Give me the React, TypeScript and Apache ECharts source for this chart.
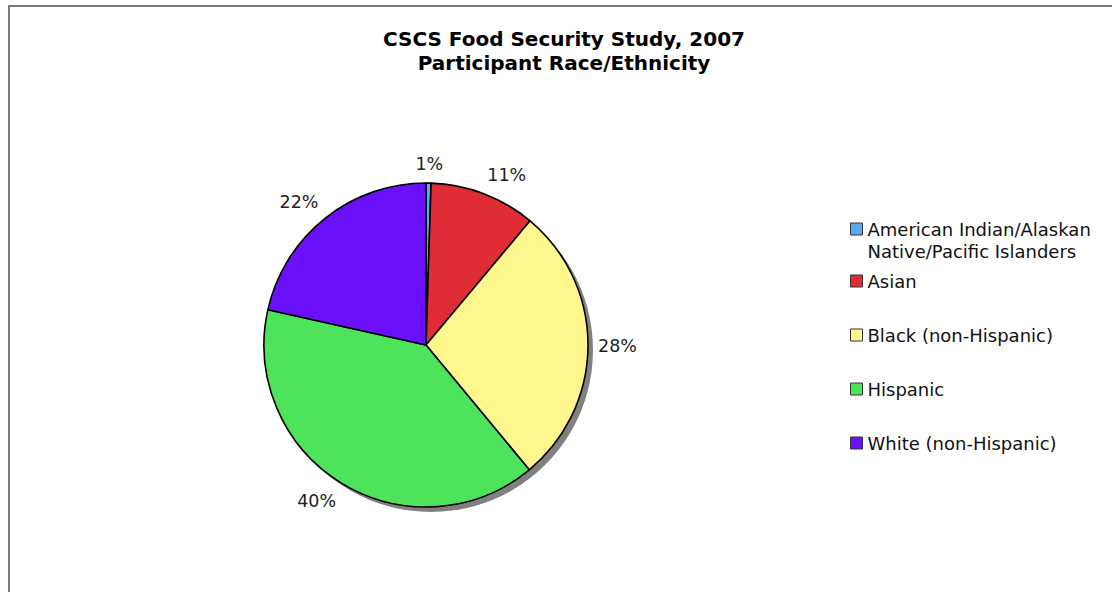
import React, { useEffect, useRef } from "react";
import * as echarts from "echarts";

const titleLines = ["CSCS Food Security Study, 2007", "Participant Race/Ethnicity"];
const categories = [
  "American Indian/Alaskan\nNative/Pacific Islanders",
  "Asian",
  "Black (non-Hispanic)",
  "Hispanic",
  "White (non-Hispanic)",
];
const percentValues = [0.5, 10.6, 27.9, 39.5, 21.5];
const sliceColors = ["#5aa9f7", "#df2c35", "#fff68e", "#4de35a", "#6a10fa"];

const FONT = "'DejaVu Sans', Verdana, sans-serif";
const CX = 426;
const CY = 345;
const R = 162;
const LABEL_GAP = 10;

export default function App() {
  const ref = useRef<HTMLDivElement>(null);
  useEffect(() => {
    if (!ref.current) return;
    const chart = echarts.init(ref.current, undefined, { renderer: "svg" });
    const data = categories.map((name, i) => ({
      name,
      value: percentValues[i],
      itemStyle: { color: sliceColors[i] },
    }));
    const total = percentValues.reduce((a, b) => a + b, 0);
    const midAngles: number[] = [];
    let acc = 0;
    percentValues.forEach((v) => {
      midAngles.push(((acc + v / 2) / total) * Math.PI * 2);
      acc += v;
    });
    const clamp = (t: number) => Math.max(-1, Math.min(1, t));

    chart.setOption({
      animation: false,
      backgroundColor: "#ffffff",
      graphic: [
        {
          type: "rect",
          shape: { x: 9, y: 6, width: 1300, height: 800 },
          style: { fill: "none", stroke: "#7a7a7a", lineWidth: 2 },
          silent: true,
          z: -10,
        },
        {
          type: "text",
          x: 564,
          y: 27,
          style: {
            text: titleLines.join("\n"),
            font: `bold 20px ${FONT}`,
            fill: "#000",
            textAlign: "center",
            lineHeight: 24,
          },
        },
      ],
      legend: [
        {
          orient: "vertical",
          left: 850,
          top: 196,
          padding: 0,
          itemWidth: 12,
          itemHeight: 12,
          icon: "rect",
          selectedMode: false,
          itemStyle: { borderColor: "#333", borderWidth: 1 },
          data: [categories[0]],
          formatter: (name: string) => "\n" + name,
          textStyle: {
            fontFamily: FONT,
            fontSize: 18,
            color: "#111",
            lineHeight: 22,
          },
        },
        {
          orient: "vertical",
          left: 850,
          top: 270,
          padding: 0,
          itemWidth: 12,
          itemHeight: 12,
          itemGap: 32,
          icon: "rect",
          selectedMode: false,
          itemStyle: { borderColor: "#333", borderWidth: 1 },
          data: categories.slice(1),
          textStyle: {
            fontFamily: FONT,
            fontSize: 18,
            color: "#111",
            lineHeight: 22,
          },
        },
      ],
      series: [
        {
          type: "pie",
          name: "main",
          center: [CX, CY],
          radius: R,
          startAngle: 90,
          clockwise: true,
          z: 3,
          silent: true,
          avoidLabelOverlap: false,
          label: {
            show: true,
            position: "outside",
            overflow: "none",
            fontFamily: FONT,
            fontSize: 17.5,
            color: "#222",
            formatter: (p: any) => `${Math.round(p.value)}%`,
          },
          labelLine: { show: false },
          labelLayout: (params: any) => {
            const a = midAngles[params.dataIndex];
            const dx = Math.sin(a);
            const dy = -Math.cos(a);
            const w = params.labelRect.width;
            const h = params.labelRect.height;
            const ax = CX + (R + LABEL_GAP) * dx;
            const ay = CY + (R + LABEL_GAP) * dy;
            return {
              x: ax + clamp(dx * 3) * (w / 2),
              y: ay + clamp(dy * 3) * (h / 2),
              align: "center",
              verticalAlign: "middle",
            };
          },
          itemStyle: { borderColor: "#000", borderWidth: 1.6 },
          emphasis: { disabled: true },
          data,
        },
        {
          type: "pie",
          name: "shadow",
          center: [CX + 5, CY + 5],
          radius: R,
          z: 1,
          silent: true,
          label: { show: false },
          labelLine: { show: false },
          itemStyle: { color: "#808080" },
          emphasis: { disabled: true },
          data: [{ name: "__shadow", value: total }],
        },
      ],
    });
    return () => chart.dispose();
  }, []);
  return (
    <div
      ref={ref}
      style={{ position: "absolute", left: 0, top: 0, width: 1112, height: 592 }}
    />
  );
}
